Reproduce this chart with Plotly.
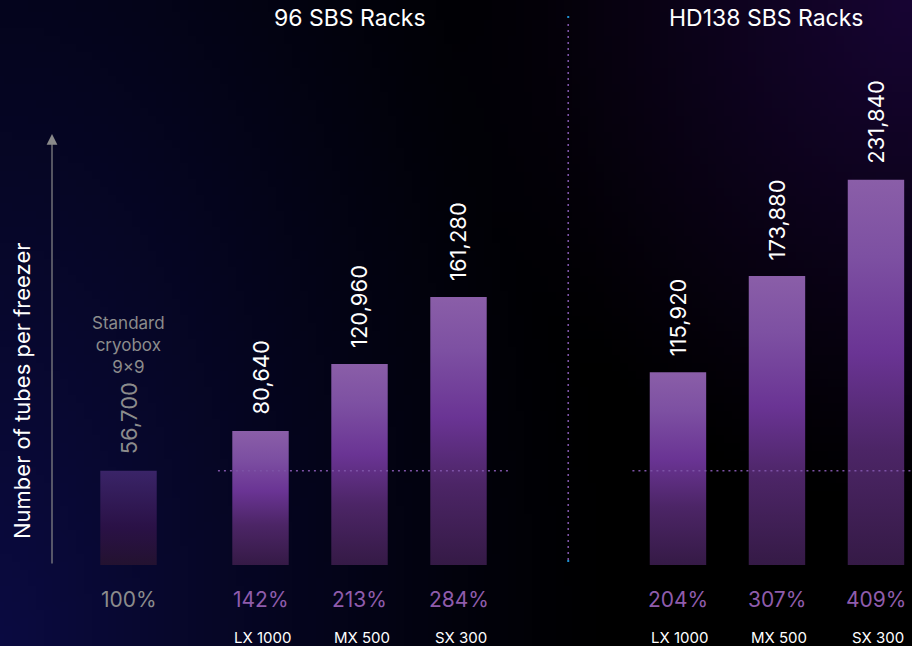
import base64
import struct
import zlib

import numpy as np
import plotly.graph_objects as go

# ---------------- data ----------------
base_label = ["Standard", "cryobox", "9×9"]
base_value = [56700]
base_percent = ["100%"]

group_titles = ["96 SBS Racks", "HD138 SBS Racks"]
models = ["LX 1000", "MX 500", "SX 300"]
sbs96_values = [80640, 120960, 161280]
hd138_values = [115920, 173880, 231840]
sbs96_percent = ["142%", "213%", "284%"]
hd138_percent = ["204%", "307%", "409%"]

y_title = "Number of tubes per freezer"

# ---------------- layout constants ----------------
W, H = 912, 646
PLOT_H = 565
Y_MAX = 340000
X_MIN, X_MAX = -1.298, 7.914
BAR_W = 0.57
GROUP_START = [4 / 3, 5.55]
FONT = "Inter"

WHITE = "#ffffff"
GRAY = "#8c8c8c"
PCT_PURPLE = "#8f5cac"
DOT_PURPLE = "#7d52a6"

bar_scale = [[0.0, "#351a46"], [0.3, "#4c2566"], [0.55, "#6a3494"],
             [0.8, "#7d50a2"], [1.0, "#8a5ea8"]]
base_scale = [[0.0, "#231230"], [0.4, "#2a1146"], [1.0, "#3a2468"]]


def paper_y(px):
    return (PLOT_H - px) / PLOT_H


# ---------------- background image ----------------
def bg_png():
    w, h = 114, 81
    xs = (np.arange(w) + 0.5) / w * W
    ys = (np.arange(h) + 0.5) / h * H
    X, Y = np.meshgrid(xs, ys)
    d_navy = np.sqrt((X / 620) ** 2 + ((H - Y) / 1300) ** 2)
    f_navy = np.clip(1 - d_navy, 0, 1) ** 1.2
    d_pur = np.sqrt(((W - X) / 460) ** 2 + (Y / 520) ** 2)
    f_pur = np.clip(1 - d_pur, 0, 1) ** 1.1
    navy = np.array([11, 11, 66], float)
    purple = np.array([24, 5, 52], float)
    img = f_navy[..., None] * navy + f_pur[..., None] * purple
    img = np.clip(img, 0, 255).astype(np.uint8)
    raw = b"".join(b"\x00" + img[r].tobytes() for r in range(h))

    def chunk(tag, data):
        c = struct.pack(">I", len(data)) + tag + data
        return c + struct.pack(">I", zlib.crc32(tag + data) & 0xFFFFFFFF)

    png = b"\x89PNG\r\n\x1a\n"
    png += chunk(b"IHDR", struct.pack(">IIBBBBB", w, h, 8, 2, 0, 0, 0))
    png += chunk(b"IDAT", zlib.compress(raw, 9))
    png += chunk(b"IEND", b"")
    return "data:image/png;base64," + base64.b64encode(png).decode()


fig = go.Figure()


def add_bar(x, value, scale, name):
    xs = [x - BAR_W / 2, x + BAR_W / 2, x + BAR_W / 2, x - BAR_W / 2, x - BAR_W / 2]
    ys = [0, 0, value, value, 0]
    fig.add_trace(go.Scatter(
        x=xs, y=ys, mode="lines", fill="toself", name=name,
        line=dict(width=0, color="rgba(0,0,0,0)"),
        fillgradient=dict(type="vertical", colorscale=scale),
        hoverinfo="skip", showlegend=False))


annotations = []


def note(**kw):
    kw.setdefault("showarrow", False)
    kw.setdefault("xanchor", "center")
    kw.setdefault("yanchor", "middle")
    annotations.append(kw)


# base bar
add_bar(0, base_value[0], base_scale, "Standard cryobox")
note(x=0, y=base_value[0], xref="x", yref="y", text=f"{base_value[0]:,}",
     textangle=-90, yanchor="bottom", yshift=14,
     font=dict(family=FONT, size=22, color=GRAY))
note(x=0, y=base_value[0], xref="x", yref="y", text="<br>".join(base_label),
     yanchor="bottom", yshift=92,
     font=dict(family=FONT, size=17, color=GRAY))
note(x=0, y=paper_y(599), xref="x", yref="paper", text=base_percent[0],
     font=dict(family=FONT, size=21, color=GRAY))

groups = [(sbs96_values, sbs96_percent), (hd138_values, hd138_percent)]
for g, (vals, pcts) in enumerate(groups):
    for k, (m, v, p) in enumerate(zip(models, vals, pcts)):
        x = GROUP_START[g] + k
        add_bar(x, v, bar_scale, f"{group_titles[g]} {m}")
        note(x=x, y=v, xref="x", yref="y", text=f"{v:,}",
             textangle=-90, yanchor="bottom", yshift=14,
             font=dict(family=FONT, size=22, color=WHITE))
        note(x=x, y=paper_y(599), xref="x", yref="paper", text=p,
             font=dict(family=FONT, size=21, color=PCT_PURPLE))
        note(x=x, y=paper_y(637), xref="x", yref="paper", text=m, xshift=2,
             font=dict(family=FONT, size=15, color=WHITE))
    note(x=GROUP_START[g] + 1, y=paper_y(18), xref="x", yref="paper",
         text=group_titles[g], xshift=-10,
         font=dict(family=FONT, size=23, color=WHITE))

# y axis title + arrow
note(x=22 / W, y=paper_y(391), xref="paper", yref="paper", text=y_title,
     textangle=-90, font=dict(family=FONT, size=22, color=WHITE))
annotations.append(dict(x=52 / W, y=paper_y(134), xref="paper", yref="paper", text="",
                        showarrow=True, ax=0, ay=431, arrowhead=2, arrowsize=1.8,
                        arrowwidth=1.2, arrowcolor="#8a8a8a"))

# reference (dotted) lines and divider
x_div = (GROUP_START[0] + 2 + GROUP_START[1]) / 2
DOTS = dict(color=DOT_PURPLE, width=1.6, dash="2px,4px")
shapes = [
    dict(type="line", xref="x", yref="y", x0=GROUP_START[0] - 0.43, x1=GROUP_START[0] + 2.53,
         y0=base_value[0], y1=base_value[0], line=DOTS, layer="above"),
    dict(type="line", xref="x", yref="y", x0=GROUP_START[1] - 0.46, x1=X_MAX,
         y0=base_value[0], y1=base_value[0], line=DOTS, layer="above"),
    dict(type="line", xref="x", yref="paper", x0=x_div, x1=x_div,
         y0=paper_y(560), y1=paper_y(20), line=DOTS),
]
for ypx in (17, 561):
    shapes.append(dict(type="rect", xref="x", yref="paper", xsizemode="pixel", ysizemode="pixel",
                       xanchor=x_div, yanchor=paper_y(ypx), x0=-1, x1=1, y0=-1, y1=1,
                       fillcolor="#1e8fd0", line=dict(width=0)))

fig.update_layout(
    width=W, height=H,
    margin=dict(l=0, r=0, t=0, b=H - PLOT_H, pad=0),
    paper_bgcolor="#000000", plot_bgcolor="rgba(0,0,0,0)",
    xaxis=dict(range=[X_MIN, X_MAX], visible=False, fixedrange=True),
    yaxis=dict(range=[0, Y_MAX], visible=False, fixedrange=True),
    showlegend=False,
    annotations=annotations,
    shapes=shapes,
    images=[dict(source=bg_png(), xref="paper", yref="paper", x=0, y=1,
                 sizex=1, sizey=H / PLOT_H, sizing="stretch", layer="below",
                 xanchor="left", yanchor="top")],
)

fig.write_html(
    "out.html",
    config={"displayModeBar": False},
    post_script="document.body.style.margin='0';document.body.style.background='#000';",
)
